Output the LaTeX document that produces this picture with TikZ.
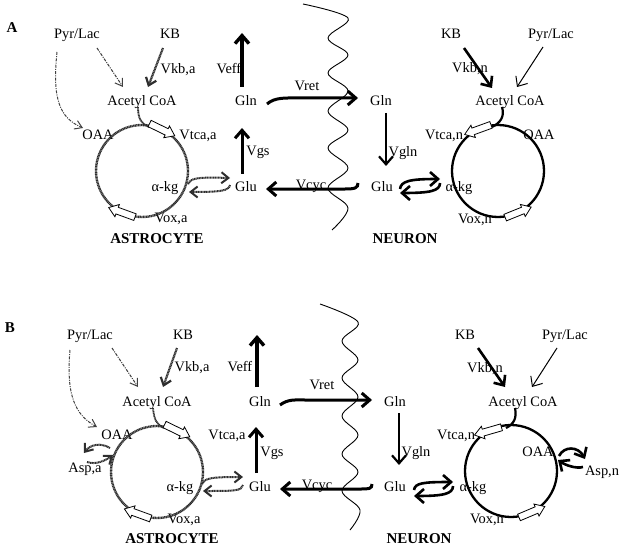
\documentclass[tikz,border=0pt]{standalone}
\usepackage{fontspec}
\setmainfont{Liberation Serif}
\usetikzlibrary{arrows.meta,calc}
\tikzset{
  lbl/.style={font=\fontsize{14.4}{16}\selectfont, inner sep=0pt, text height=10pt, text depth=3pt},
  ttl/.style={font=\fontsize{15}{17}\selectfont\bfseries, inner sep=0pt, text height=10pt, text depth=0pt},
  narr/.style={draw=black, line width=#1, -{Straight Barb[length=8pt,width=14pt]}},
  nline/.style={draw=black, line width=#1},
  aline/.style={draw=black!82, line width=#1, dash pattern=on 1.1pt off 0.5pt},
  aarr/.style={aline=#1, -{Straight Barb[length=7pt,width=11pt]}},
  adash/.style={draw=black!75, line width=1pt, dash pattern=on 3pt off 1.2pt on 1pt off 1.2pt, -{Straight Barb[length=7pt,width=9pt]}},
  wave/.style={draw=black, line width=0.9pt},
  blkst/.style={draw=black, fill=white, line width=0.8pt, solid}
}
\newcommand{\blockarrow}[2]{%
  \begin{scope}[shift={#1}, rotate=#2]
    \path[blkst] (-14,-3.5) -- (5,-3.5) -- (5,-6.5) -- (14,0) -- (5,6.5) -- (5,3.5) -- (-14,3.5) -- cycle;
  \end{scope}}
\begin{document}
\begin{tikzpicture}[x=1pt,y=-1pt]
\useasboundingbox (0,0) rectangle (623,548);

%%%%%%%%%%%%%%%%%%%%%%%% PANEL A
\node[ttl] (lA) at (12,28) {A};
\node[lbl] (pyrA) at (77,35) {Pyr/Lac};
\node[lbl] (kbA) at (170,35) {KB};
\node[lbl] (vkbA) at (178,70) {Vkb,a};
\node[lbl] (veffA) at (229,70) {Veff};
\node[lbl] (acA) at (142,102) {Acetyl CoA};
\node[lbl] (glnA) at (246,102) {Gln};
\node[lbl] (vretA) at (307,87) {Vret};
\node[lbl] (glnNA) at (381,102) {Gln};
\node[lbl] (oaaA) at (98,136) {OAA};
\node[lbl] (vtcaA) at (198,136) {Vtca,a};
\node[lbl] (vgsA) at (258,152) {Vgs};
\node[lbl] (akgA) at (165,188) {α-kg};
\node[lbl] (gluA) at (246,188) {Glu};
\node[lbl] (vcycA) at (311,186) {Vcyc};
\node[lbl] (gluNA) at (382,188) {Glu};
\node[lbl] (vglnA) at (403,153) {Vgln};
\node[lbl] (akgNA) at (459,188) {α-kg};
\node[lbl] (acNA) at (510,102) {Acetyl CoA};
\node[lbl] (oaaNA) at (539,136) {OAA};
\node[lbl] (vtcaNA) at (444,136) {Vtca,n};
\node[lbl] (kbNA) at (451,35) {KB};
\node[lbl] (pyrNA) at (551,35) {Pyr/Lac};
\node[lbl] (vkbNA) at (470,69) {Vkb,n};
\node[lbl] (voxNA) at (475,220) {Vox,n};
\node[lbl] (voxA) at (171,219) {Vox,a};
\node[ttl] (astA) at (157,238) {ASTROCYTE};
\node[ttl] (neuA) at (405,238) {NEURON};

% membrane
\draw[wave] plot[smooth, tension=0.6] coordinates {(303,4) (348,18) (328,38) (348,55) (328,73) (348,91) (328,111) (348,130) (328,148) (348,168) (328,188) (348,208) (332,230)};

% circles
\coordinate (cA) at (142,171);
\coordinate (cNA) at (498,171);
\draw[aline=2.4pt] (cA) circle (46pt);
\draw[nline=2.3pt] (cNA) circle (46pt);

% neuron / exchange arrows
\coordinate (veffS) at (242,87);  \coordinate (veffE) at (242,33);
\draw[narr=3.4pt] (veffS) -- (veffE);
\coordinate (vgsS) at (242,174);  \coordinate (vgsE) at (242,128);
\draw[narr=3pt] (vgsS) -- (vgsE);
\coordinate (vretS) at (267,104); \coordinate (vretM) at (300,98); \coordinate (vretE) at (358,98);
\draw[narr=3pt] (vretS) .. controls (275,97) and (286,98) .. (vretM) -- (vretE);
\coordinate (vglnS) at (386,113); \coordinate (vglnE) at (386,166);
\draw[narr=2.2pt] (vglnS) -- (vglnE);
\coordinate (vcycS) at (358,183); \coordinate (vcycM) at (345,189); \coordinate (vcycE) at (266,189);
\draw[narr=3pt] (vcycS) .. controls (358,188) and (355,189) .. (vcycM) -- (vcycE);
\coordinate (kbNS) at (464,48); \coordinate (kbNE) at (492,88);
\draw[narr=2.6pt] (kbNS) -- (kbNE);
\coordinate (pyNS) at (543,47); \coordinate (pyNE) at (517,87);
\draw[narr=1pt] (pyNS) -- (pyNE);
\coordinate (acNS) at (502,107); \coordinate (acNE) at (492,127);
\draw[nline=2.2pt] (acNS) .. controls (505,117) and (500,123) .. (acNE);
\coordinate (gnT1) at (400,189); \coordinate (gnT2) at (440,179);
\draw[narr=2.6pt] (gnT1) .. controls (401,181) and (410,179) .. (gnT2);
\coordinate (gnB1) at (440,183); \coordinate (gnB2) at (400,193);
\draw[narr=2.6pt] (gnB1) .. controls (440,191) and (430,193) .. (gnB2);

% astrocyte arrows
\coordinate (poS) at (57,52); \coordinate (poE) at (83,128);
\draw[adash] (poS) .. controls (52,100) and (60,118) .. (poE);
\coordinate (paS) at (97,48); \coordinate (paE) at (123,87);
\draw[adash] (paS) -- (paE);
\coordinate (kaS) at (163,48); \coordinate (kaE) at (148,87);
\draw[aarr=2.2pt] (kaS) -- (kaE);
\coordinate (acaS) at (138,107); \coordinate (acaE) at (149,127);
\draw[aline=1.8pt] (acaS) .. controls (138,120) and (142,124) .. (acaE);
\coordinate (agT1) at (188,184); \coordinate (agT2) at (230,178);
\draw[aarr=2pt] (agT1) .. controls (190,178) and (198,177) .. (agT2);
\coordinate (agB1) at (230,185); \coordinate (agB2) at (189,192);
\draw[aarr=2pt] (agB1) .. controls (229,191) and (220,192) .. (agB2);

% block arrows
\blockarrow{($(cA)+(64:46pt)$)}{-26}
\blockarrow{($(cA)+(244:46pt)$)}{160}
\blockarrow{($(cNA)+(116:46pt)$)}{200}
\blockarrow{($(cNA)+(-64:46pt)$)}{22}

%%%%%%%%%%%%%%%%%%%%%%%% PANEL B
\node[ttl] (lB) at (10,327) {B};
\node[lbl] (pyrB) at (90,336) {Pyr/Lac};
\node[lbl] (kbB) at (183,336) {KB};
\node[lbl] (vkbB) at (192,368) {Vkb,a};
\node[lbl] (veffB) at (240,368) {Veff};
\node[lbl] (acB) at (157,403) {Acetyl CoA};
\node[lbl] (glnB) at (260,403) {Gln};
\node[lbl] (vretB) at (322,386) {Vret};
\node[lbl] (glnNB) at (395,403) {Gln};
\node[lbl] (oaaB) at (117,436) {OAA};
\node[lbl] (aspB) at (85,469) {Asp,a};
\node[lbl] (vtcaB) at (227,436) {Vtca,a};
\node[lbl] (vgsB) at (272,453) {Vgs};
\node[lbl] (akgB) at (180,488) {α-kg};
\node[lbl] (gluB) at (260,488) {Glu};
\node[lbl] (vcycB) at (317,486) {Vcyc};
\node[lbl] (gluNB) at (395,488) {Glu};
\node[lbl] (vglnB) at (416,453) {Vgln};
\node[lbl] (akgNB) at (473,488) {α-kg};
\node[lbl] (acNB) at (523,403) {Acetyl CoA};
\node[lbl] (oaaNB) at (538,453) {OAA};
\node[lbl] (aspNB) at (602,472) {Asp,n};
\node[lbl] (vtcaNB) at (456,436) {Vtca,n};
\node[lbl] (kbNB) at (465,336) {KB};
\node[lbl] (pyrNB) at (565,336) {Pyr/Lac};
\node[lbl] (vkbNB) at (485,369) {Vkb,n};
\node[lbl] (voxNB) at (487,520) {Vox,n};
\node[lbl] (voxB) at (184,520) {Vox,a};
\node[ttl] (astB) at (172,538) {ASTROCYTE};
\node[ttl] (neuB) at (419,538) {NEURON};

\draw[wave] plot[smooth, tension=0.6] coordinates {(320,304) (358,322) (342,341) (358,360) (342,378) (358,397) (342,416) (358,435) (342,454) (358,472) (342,491) (360,510) (350,530)};

\coordinate (cB) at (157,472);
\coordinate (cNB) at (511,471);
\draw[aline=2.4pt] (cB) circle (46pt);
\draw[nline=2.3pt] (cNB) circle (46pt);

\coordinate (veffSB) at (257,387);  \coordinate (veffEB) at (257,335);
\draw[narr=3.4pt] (veffSB) -- (veffEB);
\coordinate (vgsSB) at (256,473);  \coordinate (vgsEB) at (256,427);
\draw[narr=3pt] (vgsSB) -- (vgsEB);
\coordinate (vretSB) at (280,405); \coordinate (vretMB) at (305,400); \coordinate (vretEB) at (372,400);
\draw[narr=3pt] (vretSB) .. controls (288,399) and (295,400) .. (vretMB) -- (vretEB);
\coordinate (vglnSB) at (399,413); \coordinate (vglnEB) at (399,465);
\draw[narr=2.2pt] (vglnSB) -- (vglnEB);
\coordinate (vcycSB) at (372,484); \coordinate (vcycMB) at (360,489); \coordinate (vcycEB) at (280,489);
\draw[narr=3pt] (vcycSB) .. controls (372,489) and (369,489) .. (vcycMB) -- (vcycEB);
\coordinate (kbNSB) at (478,348); \coordinate (kbNEB) at (505,387);
\draw[narr=2.6pt] (kbNSB) -- (kbNEB);
\coordinate (pyNSB) at (557,348); \coordinate (pyNEB) at (532,387);
\draw[narr=1pt] (pyNSB) -- (pyNEB);
\coordinate (acNSB) at (515,408); \coordinate (acNEB) at (506,428);
\draw[nline=2.2pt] (acNSB) .. controls (517,418) and (514,424) .. (acNEB);
\coordinate (gnT1B) at (414,490); \coordinate (gnT2B) at (453,482);
\draw[narr=2.6pt] (gnT1B) .. controls (415,483) and (423,482) .. (gnT2B);
\coordinate (gnB1B) at (453,486); \coordinate (gnB2B) at (414,496);
\draw[narr=2.6pt] (gnB1B) .. controls (453,494) and (443,496) .. (gnB2B);
\coordinate (oaT1) at (559,456); \coordinate (oaT2) at (585,459);
\draw[narr=2.6pt] (oaT1) .. controls (564,446) and (578,446) .. (oaT2);
\coordinate (oaB1) at (583,467); \coordinate (oaB2) at (558,460);
\draw[narr=2.6pt] (oaB1) .. controls (576,469) and (565,465) .. (oaB2);

\coordinate (poSB) at (70,350); \coordinate (poEB) at (97,427);
\draw[adash] (poSB) .. controls (66,395) and (75,415) .. (poEB);
\coordinate (paSB) at (112,348); \coordinate (paEB) at (138,387);
\draw[adash] (paSB) -- (paEB);
\coordinate (kaSB) at (177,348); \coordinate (kaEB) at (163,387);
\draw[aarr=2.2pt] (kaSB) -- (kaEB);
\coordinate (acaSB) at (153,408); \coordinate (acaEB) at (164,428);
\draw[aline=1.8pt] (acaSB) .. controls (154,420) and (157,425) .. (acaEB);
\coordinate (agT1B) at (202,484); \coordinate (agT2B) at (243,477);
\draw[aarr=2pt] (agT1B) .. controls (204,478) and (212,477) .. (agT2B);
\coordinate (agB1B) at (243,485); \coordinate (agB2B) at (203,491);
\draw[aarr=2pt] (agB1B) .. controls (242,491) and (234,491) .. (agB2B);
\coordinate (asT1) at (110,448); \coordinate (asT2) at (84,453);
\draw[aarr=2pt] (asT1) .. controls (100,442) and (90,445) .. (asT2);
\coordinate (asB1) at (87,462); \coordinate (asB2) at (113,455);
\draw[aarr=2pt] (asB1) .. controls (95,465) and (105,461) .. (asB2);

\blockarrow{($(cB)+(64:46pt)$)}{-26}
\blockarrow{($(cB)+(245:46pt)$)}{160}
\blockarrow{($(cNB)+(120:46pt)$)}{196}
\blockarrow{($(cNB)+(-63:46pt)$)}{23}
\end{tikzpicture}
\end{document}
